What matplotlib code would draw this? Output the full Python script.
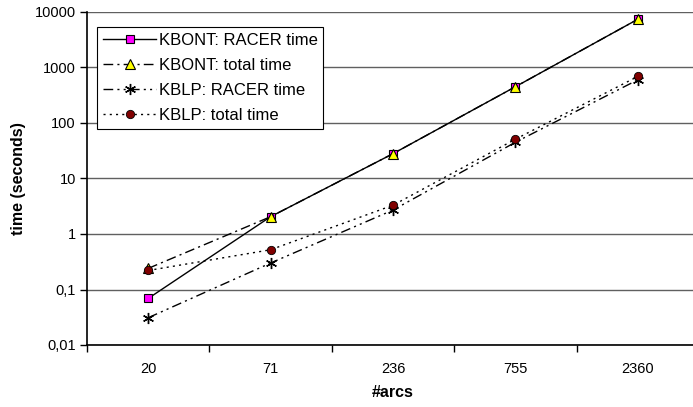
import numpy as np
import matplotlib
matplotlib.use('Agg')
import matplotlib.pyplot as plt

plt.rcParams['font.family'] = ['Liberation Sans', 'DejaVu Sans']

# data
arcs = ['20', '71', '236', '755', '2360']
kbont_racer = [0.069, 2.05, 28, 450, 7400]
kbont_total = [0.24, 2.05, 28, 450, 7400]
kblp_racer = [0.031, 0.30, 2.7, 45, 600]
kblp_total = [0.22, 0.52, 3.3, 51, 690]
ytick_vals = [0.01, 0.1, 1, 10, 100, 1000, 10000]
ytick_labels = ['0,01', '0,1', '1', '10', '100', '1000', '10000']

fig = plt.figure(figsize=(6.93, 4.07), dpi=100)
W, H = 693, 407
# plot area runs a little past the right edge of the picture
ax = fig.add_axes([87 / W, (H - 345) / H, (699 - 87) / W, (345 - 12) / H])

x = np.arange(len(arcs))

ax.plot(x, kbont_racer, color='black', lw=1, linestyle='-',
        marker='s', markersize=6, markerfacecolor='#FF00FF', markeredgecolor='black',
        markeredgewidth=0.8, label='KBONT: RACER time', zorder=3)
ax.plot(x, kbont_total, color='black', lw=1, dashes=(7, 3, 1.5, 3),
        marker='^', markersize=6.5, markerfacecolor='#FFFF00', markeredgecolor='black',
        markeredgewidth=0.8, label='KBONT: total time', zorder=4)
ax.plot(x, kblp_racer, color='black', lw=1, dashes=(7, 3, 1.5, 3, 1.5, 3),
        marker=(6, 2, 0), markersize=8, markeredgecolor='black', markeredgewidth=1,
        label='KBLP: RACER time', zorder=3)
ax.plot(x, kblp_total, color='black', lw=1, dashes=(1.5, 3),
        marker='o', markersize=6, markerfacecolor='#800000', markeredgecolor='black',
        markeredgewidth=0.6, label='KBLP: total time', zorder=4)

ax.set_yscale('log')
ax.set_ylim(0.01, 10000)
ax.set_yticks(ytick_vals)
ax.set_yticklabels(ytick_labels)
ax.yaxis.set_minor_locator(matplotlib.ticker.NullLocator())
ax.set_xlim(-0.5, len(arcs) - 0.5)
ax.set_xticks(x)
ax.set_xticklabels(arcs)
ax.set_xticks(np.arange(len(arcs)) - 0.5, minor=True)
ax.tick_params(axis='x', which='major', length=0, pad=12, labelsize=10.5)
ax.tick_params(axis='x', which='minor', length=5, width=1, direction='out')
ax.tick_params(axis='y', length=5, width=1, direction='out', labelsize=10.5, pad=3)

ax.grid(axis='y', which='major', color='#606060', lw=1)
ax.set_axisbelow(True)
for s in ['top', 'right']:
    ax.spines[s].set_visible(False)
ax.spines['left'].set_linewidth(1.2)
ax.spines['bottom'].set_linewidth(1.2)

ax.set_ylabel('time (seconds)', fontsize=11.5, fontweight='bold', labelpad=6)
ax.set_xlabel('#arcs', fontsize=11.5, fontweight='bold', labelpad=7)

leg = ax.legend(loc='upper left', bbox_to_anchor=(10 / 612, 1 - 15 / 333),
                fontsize=12, frameon=True, fancybox=False, framealpha=1,
                edgecolor='black', handlelength=3.2, labelspacing=0.6,
                borderpad=0.35, handletextpad=0.15, borderaxespad=0)
leg.get_frame().set_linewidth(0.8)

fig.savefig('out.png', dpi=100)
